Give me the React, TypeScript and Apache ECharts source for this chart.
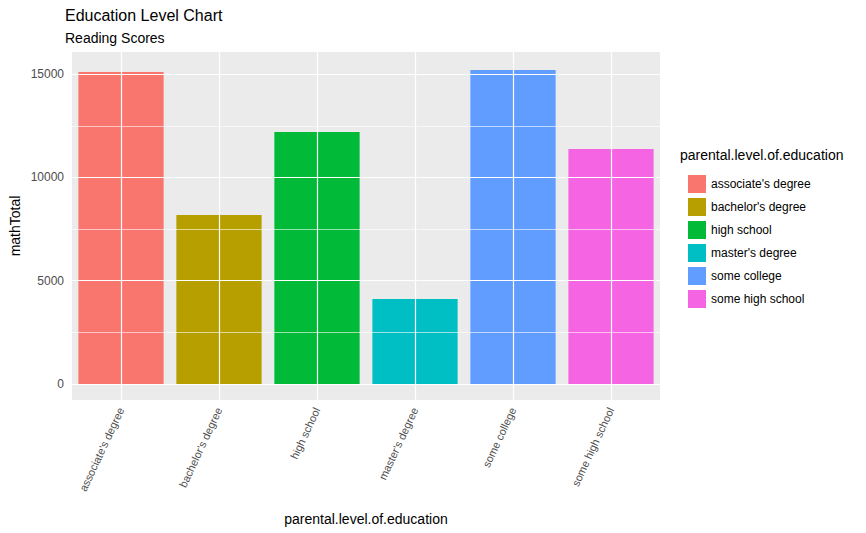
import { useEffect, useRef } from 'react';
import * as echarts from 'echarts';

const categories = [
  "associate's degree",
  "bachelor's degree",
  'high school',
  "master's degree",
  'some college',
  'some high school',
];
const mathTotals = [15100, 8180, 12200, 4110, 15200, 11375];
const colors = ['#F8766D', '#B79F00', '#00BA38', '#00BFC4', '#619CFF', '#F564E3'];
const majorTicks = [0, 5000, 10000, 15000];
const minorTicks = [2500, 7500, 12500];

export default function App() {
  const ref = useRef<HTMLDivElement>(null);

  useEffect(() => {
    document.body.style.margin = '0';
    if (!ref.current) return;
    const chart = echarts.init(ref.current, undefined, { renderer: 'svg' });

    const gridLines = {
      silent: true,
      symbol: 'none',
      animation: false,
      data: [
        ...minorTicks.map((v) => ({
          yAxis: v,
          lineStyle: { color: '#ffffff', width: 0.6, type: 'solid' },
          label: { show: false },
        })),
        ...majorTicks.map((v) => ({
          yAxis: v,
          lineStyle: { color: '#ffffff', width: 1.2, type: 'solid' },
          label: {
            show: true,
            position: 'start',
            formatter: String(v),
            color: '#4d4d4d',
            fontSize: 12,
            distance: 8,
          },
        })),
        ...categories.map((c) => ({
          xAxis: c,
          lineStyle: { color: '#ffffff', width: 1.2, type: 'solid' },
          label: { show: false },
        })),
      ],
    };

    const series: any[] = categories.map((c, i) => ({
      name: c,
      type: 'bar',
      stack: 'all',
      barCategoryGap: '13%',
      data: categories.map((_, j) => (j === i ? mathTotals[i] : null)),
      itemStyle: { color: colors[i] },
      z: 3,
    }));
    series.unshift({
      name: '__grid',
      type: 'line',
      data: [],
      markLine: gridLines,
      z: 1,
    });

    chart.setOption({
      animation: false,
      textStyle: { fontFamily: 'Arial, Liberation Sans, sans-serif' },
      title: {
        text: 'Education Level Chart',
        subtext: 'Reading Scores',
        left: 60,
        top: 2,
        itemGap: 8,
        textStyle: { fontSize: 16, fontWeight: 'normal', color: '#000' },
        subtextStyle: { fontSize: 14, color: '#000' },
      },
      grid: { left: 67, top: 52, width: 593, height: 348, backgroundColor: '#EBEBEB', show: true, borderWidth: 0 },
      xAxis: {
        type: 'category',
        data: categories,
        name: 'parental.level.of.education',
        nameLocation: 'middle',
        nameGap: 112,
        nameTextStyle: { fontSize: 14, color: '#000' },
        axisLine: { show: false },
        axisTick: { show: true, lineStyle: { color: '#333' }, length: 4, alignWithLabel: true },
        axisLabel: { rotate: 65, color: '#4d4d4d', fontSize: 11, margin: 8 },
        splitLine: { show: false },
      },
      yAxis: {
        type: 'value',
        min: -775,
        max: 16070,
        name: 'mathTotal',
        nameLocation: 'middle',
        nameGap: 50,
        nameTextStyle: { fontSize: 14, color: '#000' },
        axisLine: { show: false },
        axisTick: { show: false },
        axisLabel: { show: false },
        splitLine: { show: false },
      },
      legend: {
        orient: 'vertical',
        left: 683,
        top: 170,
        itemWidth: 18,
        itemHeight: 18,
        itemGap: 5,
        icon: 'rect',
        data: categories,
        textStyle: { fontSize: 12, color: '#000' },
      },
      graphic: [
        {
          type: 'text',
          left: 680,
          top: 148,
          style: { text: 'parental.level.of.education', fontSize: 14, fill: '#000', fontFamily: 'Arial, Liberation Sans, sans-serif' },
        },
      ],
      series,
    });

    return () => chart.dispose();
  }, []);

  return <div ref={ref} style={{ width: 866, height: 533 }} />;
}
